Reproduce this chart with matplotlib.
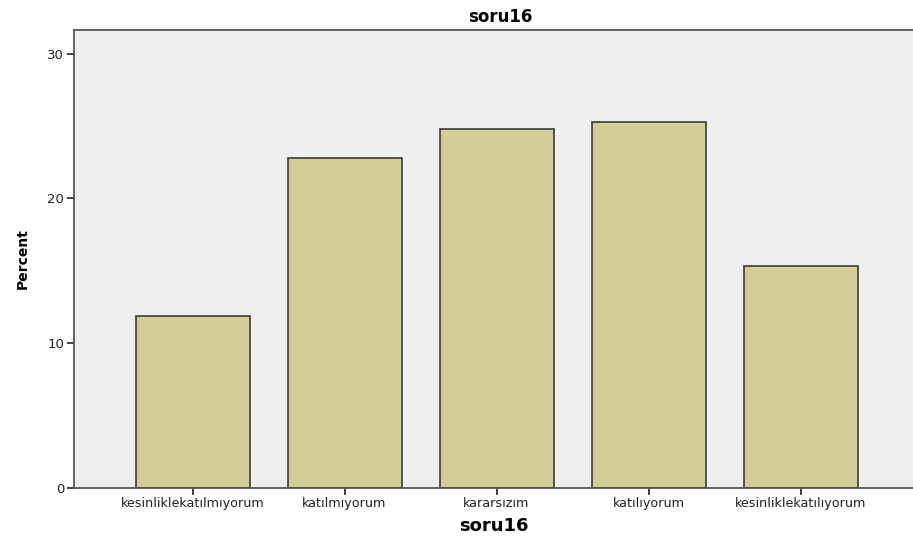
import matplotlib.pyplot as plt
import numpy as np

plt.rcParams['font.family'] = ['DejaVu Sans']

# kategoriler ve yüzdeler
categories = ['kesinliklekatılmıyorum', 'katılmıyorum', 'kararsızım',
              'katılıyorum', 'kesinliklekatılıyorum']
percent = [11.9, 22.8, 24.8, 25.3, 15.3]
y_ticks = [0, 10, 20, 30]

fig = plt.figure(figsize=(9.13, 5.43), dpi=100)
ax = fig.add_axes([0.081, 0.102, 0.919, 0.843])
ax.set_facecolor('#efefef')

x = np.arange(len(categories))
ax.bar(x, percent, width=0.75, color='#d3ce97', edgecolor='#3a3a3a', linewidth=1.2, zorder=2)

ax.set_xlim(-0.78, 4.74)
ax.set_ylim(0, 31.66)
ax.set_xticks(x)
ax.set_xticklabels(categories, fontsize=9.2, color='#222222')
ax.set_yticks(y_ticks)
ax.set_yticklabels([str(t) for t in y_ticks], fontsize=9.5, color='#222222')
ax.tick_params(axis='both', color='#222222', length=5, width=1.2, pad=2)

for side in ['left', 'bottom', 'top']:
    ax.spines[side].set_color('#555555')
    ax.spines[side].set_linewidth(1.3)
ax.spines['right'].set_visible(False)

ax.set_title('soru16', fontsize=12, fontweight='bold', pad=6, x=0.508)
ax.set_xlabel('soru16', fontsize=13, fontweight='bold', labelpad=5)
ax.set_ylabel('Percent', fontsize=10, fontweight='bold', labelpad=13)

fig.savefig('out.png', dpi=100)
